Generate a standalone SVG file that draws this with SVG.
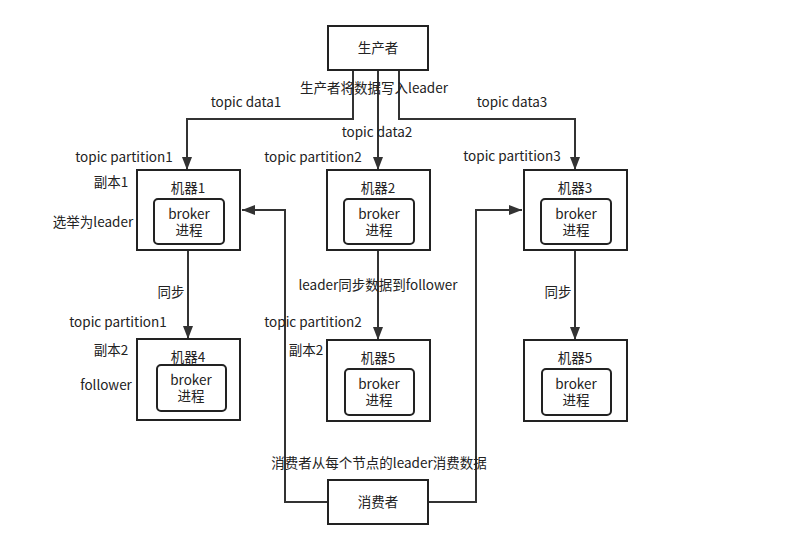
<svg xmlns="http://www.w3.org/2000/svg" width="786" height="548" viewBox="0 0 786 548">
<defs>
<marker id="ah" viewBox="0 0 13 10" refX="13" refY="5" markerWidth="13" markerHeight="10" markerUnits="userSpaceOnUse" orient="auto">
<path d="M0,0 L13,5 L0,10 Z" fill="#333"/>
</marker>
<style>
.box{fill:#fff;stroke:#222;stroke-width:2}
.inner{fill:#fff;stroke:#222;stroke-width:2}
.ln{fill:none;stroke:#333;stroke-width:2}
text{font-family:"Noto Sans CJK SC","Open Sans",sans-serif;font-size:13.5px;fill:#222;dominant-baseline:central}
.c{text-anchor:middle}
</style>
</defs>
<rect width="786" height="548" fill="#fff"/>
<g id="connectors">
<polyline class="ln" points="353,70 353,119 187,119 187,170" marker-end="url(#ah)"/>
<polyline class="ln" points="378,70 378,170" marker-end="url(#ah)"/>
<polyline class="ln" points="399,70 399,119 575,119 575,170" marker-end="url(#ah)"/>
<polyline class="ln" points="188,250 188,339" marker-end="url(#ah)"/>
<polyline class="ln" points="378,250 378,340" marker-end="url(#ah)"/>
<polyline class="ln" points="575,250 575,340" marker-end="url(#ah)"/>
<polyline class="ln" points="328,502 285,502 285,210 242,210" marker-end="url(#ah)"/>
<polyline class="ln" points="428,502 476,502 476,210 522,210" marker-end="url(#ah)"/>
</g>
<g id="producer">
<rect class="box" x="328" y="26" width="100" height="44"/>
<text class="c" x="378" y="47">生产者</text>
</g>
<g id="m1">
<rect class="box" x="137" y="170" width="103" height="80"/>
<text class="c" x="188" y="187">机器1</text>
<rect class="inner" x="154" y="199" width="70" height="45" rx="4"/>
<text class="c" x="189" y="213">broker</text>
<text class="c" x="189" y="229">进程</text>
</g>
<g id="m2">
<rect class="box" x="327" y="170" width="103" height="80"/>
<text class="c" x="378" y="187">机器2</text>
<rect class="inner" x="344" y="199" width="70" height="45" rx="4"/>
<text class="c" x="379" y="213">broker</text>
<text class="c" x="379" y="229">进程</text>
</g>
<g id="m3">
<rect class="box" x="524" y="170" width="103" height="80"/>
<text class="c" x="575" y="187">机器3</text>
<rect class="inner" x="541" y="199" width="70" height="45" rx="4"/>
<text class="c" x="576" y="213">broker</text>
<text class="c" x="576" y="229">进程</text>
</g>
<g id="m4">
<rect class="box" x="137" y="339" width="103" height="81"/>
<text class="c" x="188" y="356">机器4</text>
<rect class="inner" x="157" y="365" width="69" height="46" rx="4"/>
<text class="c" x="191" y="379">broker</text>
<text class="c" x="191" y="395">进程</text>
</g>
<g id="m5a">
<rect class="box" x="327" y="340" width="103" height="81"/>
<text class="c" x="378" y="357">机器5</text>
<rect class="inner" x="345" y="369" width="69" height="46" rx="4"/>
<text class="c" x="379" y="383">broker</text>
<text class="c" x="379" y="399">进程</text>
</g>
<g id="m5b">
<rect class="box" x="524" y="340" width="103" height="81"/>
<text class="c" x="575" y="357">机器5</text>
<rect class="inner" x="542" y="369" width="69" height="46" rx="4"/>
<text class="c" x="576" y="383">broker</text>
<text class="c" x="576" y="399">进程</text>
</g>
<g id="consumer">
<rect class="box" x="328" y="480" width="100" height="44"/>
<text class="c" x="378" y="501">消费者</text>
</g>
<g id="labels">
<text class="c" x="374" y="87">生产者将数据写入leader</text>
<text class="c" x="246" y="101">topic data1</text>
<text class="c" x="377" y="131">topic data2</text>
<text class="c" x="512" y="101">topic data3</text>
<text class="c" x="124" y="156">topic partition1</text>
<text class="c" x="313" y="156">topic partition2</text>
<text class="c" x="512" y="155">topic partition3</text>
<text class="c" x="111" y="181">副本1</text>
<text class="c" x="93" y="221">选举为leader</text>
<text class="c" x="171" y="291">同步</text>
<text class="c" x="378" y="284">leader同步数据到follower</text>
<text class="c" x="558" y="291">同步</text>
<text class="c" x="118" y="321">topic partition1</text>
<text class="c" x="313" y="321">topic partition2</text>
<text class="c" x="111" y="349">副本2</text>
<text class="c" x="306" y="349">副本2</text>
<text class="c" x="106" y="384">follower</text>
<text class="c" x="379" y="462">消费者从每个节点的leader消费数据</text>
</g>
</svg>
